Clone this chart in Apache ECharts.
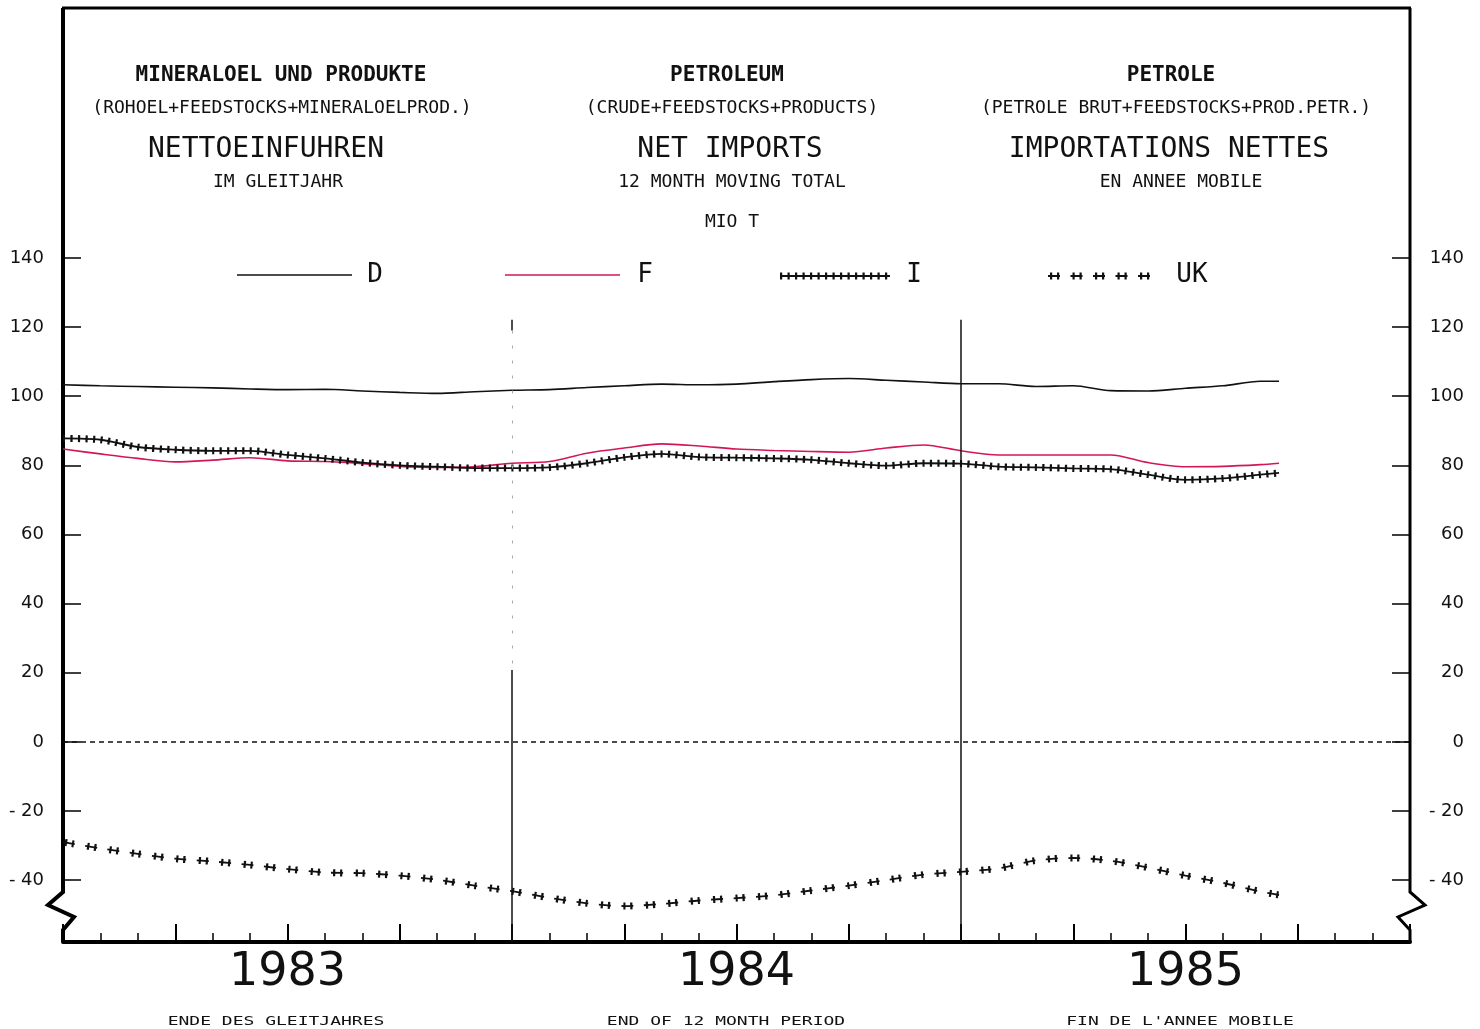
<!DOCTYPE html>
<html>
<head>
<meta charset="utf-8">
<title>Petroleum net imports</title>
<script src="https://cdn.jsdelivr.net/npm/echarts@6/dist/echarts.min.js"></script>
<style>
html,body{margin:0;padding:0;background:#fff}
#main{width:1480px;height:1029px}
</style>
</head>
<body>
<div id="main"></div>
<script>
// months counted from the start of 1983
var months = [0,1,2,3,4,5,6,7,8,9,10,11,12,13,14,15,16,17,18,19,20,21,22,23,24,25,26,27,28,29,30,31,32,32.5];
var dData  = [103.3,103.0,102.8,102.6,102.4,102.1,101.9,102.0,101.5,101.1,100.8,101.3,101.7,101.9,102.5,103.0,103.5,103.3,103.5,104.2,104.8,105.1,104.6,104.1,103.6,103.6,102.8,103.0,101.6,101.5,102.3,103.0,104.3,104.3];
var fData  = [84.7,83.3,82.0,81.0,81.5,82.2,81.3,81.1,80.5,79.7,79.4,79.6,80.6,81.1,83.5,85.0,86.2,85.6,84.7,84.3,84.0,83.8,85.0,85.9,84.2,83.0,83.0,83.0,83.0,80.8,79.6,79.7,80.2,80.6];
var iData  = [87.8,87.4,85.3,84.5,84.2,84.2,83.0,82.0,80.8,80.0,79.6,79.2,79.2,79.4,80.6,82.3,83.3,82.4,82.2,82.0,81.6,80.6,79.9,80.6,80.5,79.6,79.4,79.1,78.9,77.3,75.8,76.2,77.3,77.8];
var ukData = [-29.0,-30.8,-32.4,-33.8,-34.6,-35.6,-36.8,-37.8,-38.0,-38.7,-39.9,-41.6,-43.2,-45.1,-46.7,-47.5,-46.9,-45.9,-45.2,-44.4,-43.0,-41.6,-40.0,-38.4,-37.6,-36.6,-34.3,-33.6,-34.4,-36.4,-38.7,-40.8,-43.3,-44.3];
var yearLabels = ['1983','1984','1985'];
var yTicks = [-40,-20,0,20,40,60,80,100,120,140];

var MONO = '"DejaVu Sans Mono", monospace';
var RED = '#d3165a';

function pairs(vals){
  return vals.map(function(v,i){ return [months[i], v]; });
}
function yFmt(v){ return v < 0 ? '- ' + Math.abs(v) : String(v); }

function yAxisFor(pos){
  return {
    type:'value', position:pos, min:-57.9, max:212.3,
    axisLine:{show:false}, splitLine:{show:false},
    axisTick:{show:true, inside:true, length:18, customValues:yTicks, lineStyle:{color:'#000', width:1.5}},
    axisLabel:{customValues:yTicks, formatter:yFmt, color:'#111', fontFamily:'DejaVu Sans', fontSize:18,
      align:'right', margin: pos === 'left' ? 19 : 54}
  };
}

function txt(x, y, s, size, bold, extra){
  var el = {
    type:'text', x:x, y:y, silent:true,
    style:{text:s, x:0, y:0, fill:'#111', font:(bold ? 'bold ' : '') + size + 'px ' + MONO,
      textAlign:'center', textVerticalAlign:'middle'}
  };
  if (extra) { for (var k in extra) el[k] = extra[k]; }
  return el;
}
function seg(x1, x2, y, style){
  var st = {stroke:'#111', lineWidth:1.6};
  for (var k in style) st[k] = style[k];
  return {type:'line', silent:true, shape:{x1:x1, y1:y, x2:x2, y2:y}, style:st};
}

var chart = echarts.init(document.getElementById('main'));

var option = {
  backgroundColor:'#fff',
  animation:false,
  grid:{left:63, right:70, top:8, bottom:87},
  xAxis:{
    type:'value', min:0, max:36, interval:3,
    axisLine:{onZero:false, lineStyle:{color:'#000', width:4}},
    axisTick:{inside:true, length:18, lineStyle:{color:'#000', width:2}},
    minorTick:{show:true, splitNumber:3, length:9, lineStyle:{color:'#000', width:1.5}},
    splitLine:{show:false},
    axisLabel:{customValues:[6,18,30], formatter:function(v){ return yearLabels[(v - 6) / 12]; },
      color:'#111', fontFamily:'DejaVu Sans', fontSize:46, margin:8}
  },
  yAxis:[yAxisFor('left'), yAxisFor('right')],
  series:[
    {
      name:'D', type:'line', data:pairs(dData), symbol:'none', smooth:0.3,
      lineStyle:{color:'#111', width:1.6},
      markLine:{
        silent:true, symbol:'none', label:{show:false},
        data:[
          [{yAxis:0, x:63, lineStyle:{color:'#111', width:1.5, type:[5,4]}}, {yAxis:0, x:1410}],
          [{coord:[12,122.1], lineStyle:{color:'#111', width:1.5, type:'solid'}}, {coord:[12,119]}],
          [{coord:[12,119], lineStyle:{color:'#aaa', width:1, type:[3,12]}}, {coord:[12,20.8]}],
          [{coord:[12,20.8], lineStyle:{color:'#111', width:1.5, type:'solid'}}, {coord:[12,-57.9]}],
          [{coord:[24,122.1], lineStyle:{color:'#111', width:1.5, type:'solid'}}, {coord:[24,-57.9]}]
        ]
      }
    },
    {name:'F', type:'line', data:pairs(fData), symbol:'none', smooth:0.3, lineStyle:{color:RED, width:1.6}},
    {name:'I', type:'line', data:pairs(iData), symbol:'none', smooth:0.3, lineStyle:{color:'#111', width:1.8}},
    {name:'I marks', type:'line', data:pairs(iData), symbol:'none', smooth:0.3, silent:true,
      lineStyle:{color:'#111', width:7, type:[2.2,5.3], cap:'butt'}},
    {name:'UK', type:'line', data:pairs(ukData), symbol:'none', smooth:0.3,
      lineStyle:{color:'#111', width:1.8, type:[12,10.5], cap:'butt'}},
    {name:'UK marks', type:'line', data:pairs(ukData), symbol:'none', smooth:0.3, silent:true,
      lineStyle:{color:'#111', width:7, type:[2.2,4.8,2.2,13.3], dashOffset:20.5, cap:'butt'}}
  ],
  graphic:[
    // frame with break marks
    {type:'polyline', silent:true, shape:{points:[[63,8],[63,892],[48,905],[74,917],[63,930],[63,942]]},
      style:{stroke:'#000', lineWidth:4, fill:null}},
    {type:'polyline', silent:true, shape:{points:[[1410,8],[1410,892],[1425,905],[1398,917],[1410,930],[1410,942]]},
      style:{stroke:'#000', lineWidth:3, fill:null}},
    {type:'line', silent:true, shape:{x1:62, y1:8, x2:1411, y2:8}, style:{stroke:'#000', lineWidth:3}},

    // headings
    txt(281, 76, 'MINERALOEL UND PRODUKTE', 21, true),
    txt(727, 76, 'PETROLEUM', 21, true),
    txt(1171, 76, 'PETROLE', 21, true),
    txt(282, 108, '(ROHOEL+FEEDSTOCKS+MINERALOELPROD.)', 18, false),
    txt(732, 108, '(CRUDE+FEEDSTOCKS+PRODUCTS)', 18, false),
    txt(1176, 108, '(PETROLE BRUT+FEEDSTOCKS+PROD.PETR.)', 18, false),
    txt(266, 150, 'NETTOEINFUHREN', 28, false),
    txt(730, 150, 'NET IMPORTS', 28, false),
    txt(1169, 150, 'IMPORTATIONS NETTES', 28, false),
    txt(278, 182, 'IM GLEITJAHR', 18, false),
    txt(732, 182, '12 MONTH MOVING TOTAL', 18, false),
    txt(1181, 182, 'EN ANNEE MOBILE', 18, false),
    txt(732, 222, 'MIO T', 18, false),

    // legend
    seg(237, 352, 275, {}),
    txt(375, 275, 'D', 26, false),
    seg(505, 620, 275, {stroke:RED}),
    txt(645, 275, 'F', 26, false),
    seg(780, 890, 276, {lineWidth:1.8}),
    seg(780, 890, 276, {lineWidth:7, lineDash:[2.2,5.3]}),
    txt(914, 275, 'I', 26, false),
    seg(1048, 1150, 276, {lineWidth:1.8, lineDash:[12,10.5]}),
    seg(1048, 1150, 276, {lineWidth:7, lineDash:[2.2,4.8,2.2,13.3], lineDashOffset:20.5}),
    txt(1192, 275, 'UK', 26, false),

    // bottom captions
    txt(276, 1022, 'ENDE DES GLEITJAHRES', 18, false, {scaleY:0.72}),
    txt(726, 1022, 'END OF 12 MONTH PERIOD', 18, false, {scaleY:0.72}),
    txt(1180, 1022, "FIN DE L'ANNEE MOBILE", 18, false, {scaleY:0.72})
  ]
};

chart.setOption(option);
</script>
</body>
</html>
